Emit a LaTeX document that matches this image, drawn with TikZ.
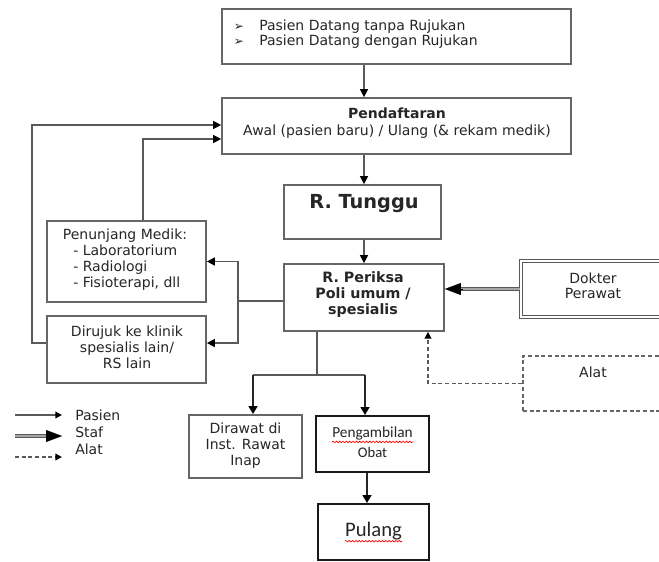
\documentclass[tikz,border=0pt]{standalone}
\usepackage{fontspec}
\setmainfont{DejaVu Sans}
\newfontfamily\carl{Carlito}
\usetikzlibrary{arrows.meta,decorations.pathmorphing,calc}
\begin{document}
\begin{tikzpicture}[x=0.75pt,y=-0.75pt,
  box/.style={draw=black!60, line width=1.3pt, fill=white, inner sep=0pt},
  bbox/.style={draw=black!90, line width=1.4pt, fill=white, inner sep=0pt},
  dbox/.style={draw=black!60, line width=1.1pt, dash pattern=on 3pt off 2pt, inner sep=0pt},
  stafbox/.style={draw=black!65, line width=0.9pt, double=white, double distance=1.2pt, inner sep=0pt},
  txt/.style={text=black!85, font=\fontsize{10.5}{12}\selectfont, inner sep=0pt, align=center},
  conn/.style={draw=black!65, line width=1.1pt},
  arr/.style={conn, -{Triangle[length=6pt,width=6pt,color=black]}},
  barr/.style={draw=black!85, line width=1.5pt, -{Triangle[length=6pt,width=6.5pt,color=black]}},
  dasharr/.style={draw=black!65, line width=1.1pt, dash pattern=on 3pt off 2pt, -{Triangle[length=5pt,width=5pt,color=black]}},
  staf/.style={draw=black!65, line width=0.9pt, double=black!35, double distance=1.4pt},
  stafhead/.style={draw=black, line width=0.1pt, -{Triangle[length=12pt,width=9pt,color=black]}},
  squig/.style={draw=red, line width=0.5pt, decorate, decoration={snake, amplitude=0.6pt, segment length=2.5pt}}
]
\clip (0,0) rectangle (659,561);
\fill[white] (0,0) rectangle (659,561);

% boxes
\node[box, minimum width={349*0.75pt}, minimum height={55*0.75pt}] (top) at (396.5,36.5) {};
\node[box, minimum width={349*0.75pt}, minimum height={56*0.75pt}] (pend) at (396.5,126) {};
\node[box, minimum width={157*0.75pt}, minimum height={54*0.75pt}] (tung) at (362.5,212) {};
\node[box, minimum width={160*0.75pt}, minimum height={67*0.75pt}] (peri) at (364,297.5) {};
\node[stafbox, minimum width={169*0.75pt}, minimum height={56*0.75pt}] (dok) at (605.5,289) {};
\node[dbox, minimum width={167*0.75pt}, minimum height={55*0.75pt}] (alat) at (606.5,383.5) {};
\node[box, minimum width={159*0.75pt}, minimum height={81*0.75pt}] (penu) at (126.5,261.5) {};
\node[box, minimum width={159*0.75pt}, minimum height={67*0.75pt}] (diru) at (126.5,349.5) {};
\node[box, minimum width={113*0.75pt}, minimum height={63*0.75pt}] (dira) at (245.5,446.5) {};
\node[bbox, minimum width={113*0.75pt}, minimum height={56*0.75pt}] (peng) at (372.5,444) {};
\node[bbox, minimum width={111*0.75pt}, minimum height={56*0.75pt}] (pul) at (373.5,532) {};

% texts
\node[txt] (b1) at (239,27) {\fontsize{9}{10}\selectfont ➢};
\node[txt] (b2) at (239,42) {\fontsize{9}{10}\selectfont ➢};
\node[txt, anchor=west] (t1) at (259,27) {Pasien Datang tanpa Rujukan};
\node[txt, anchor=west] (t2) at (259,42) {Pasien Datang dengan Rujukan};
\node[txt, font=\fontsize{10.5}{12}\bfseries] (pt1) at (397,113) {Pendaftaran};
\node[txt] (pt2) at (397,132) {Awal (pasien baru) / Ulang (\& rekam medik)};
\node[txt, font=\fontsize{14.5}{17}\bfseries] (tt) at (364,204) {R. Tunggu};
\node[txt, font=\fontsize{10.7}{12}\bfseries] (prt) at (363,295) {R. Periksa\\Poli umum /\\spesialis};
\node[txt, font=\fontsize{10.5}{11.3}\selectfont] (dt) at (593,285.5) {Dokter\\Perawat};
\node[txt] (at) at (593,372) {Alat};
\node[txt] (pn1) at (125,236) {Penunjang Medik:};
\node[txt, anchor=west, align=left] (pn2) at (73,268) {- Laboratorium\\- Radiologi\\- Fisioterapi, dll};
\node[txt] (drt) at (127,347) {Dirujuk ke klinik\\spesialis lain/\\RS lain};
\node[txt] (dwt) at (245.5,446) {Dirawat di\\Inst. Rawat\\Inap};
\node[txt, font=\carl\fontsize{11.5}{13}\selectfont] (pg1) at (372.5,433) {Pengambilan};
\node[txt, font=\carl\fontsize{11}{13}\selectfont] (pg2) at (372.5,452) {Obat};
\node[txt, font=\carl\fontsize{15.5}{18}\selectfont] (pl) at (373.5,531) {Pulang};
\draw[squig] ($(pg1.south west)+(0,2)$) -- ($(pg1.south east)+(0,2)$);
\draw[squig] ($(pl.south west)+(0,1)$) -- ($(pl.south east)+(0,1)$);

% helper coordinates
\coordinate (cx) at (364,0);
\coordinate (ax) at (428,0);
\coordinate (split) at (317,375);
\coordinate (dx) at (253,375);
\coordinate (px) at (365,375);
\coordinate (bj) at (238,301);
\coordinate (dj) at (0,343);
\coordinate (lp) at (32,125);
\coordinate (up) at (143,139);
\coordinate (ox) at (367,0);

% connectors
\draw[arr] (top.south -| cx) -- (pend.north -| cx);
\draw[arr] (pend.south -| cx) -- (tung.north -| cx);
\draw[arr] (tung.south -| cx) -- (peri.north -| cx);
\draw[staf] (dok.west) -- ($(dok.west -| peri.east)+(14,0)$);
\draw[stafhead] ($(dok.west -| peri.east)+(18,0)$) -- (dok.west -| peri.east);
\draw[dasharr] (alat.west) -| (peri.south -| ax);
\draw[conn] (peri.south -| split) -- (split);
\draw[conn] (dx) -- (px);
\draw[barr] (dx) -- (dira.north -| dx);
\draw[barr] (px) -- (peng.north -| px);
\draw[barr] (peng.south -| ox) -- (pul.north -| ox);
\draw[conn] (peri.west |- bj) -- (bj);
\draw[arr] (bj) |- (penu.east);
\draw[arr] (bj) |- (diru.east |- dj);
\draw[arr] (penu.north -| up) -- (up) -- (pend.west |- up);
\draw[arr] (diru.west |- dj) -| (lp) -- (pend.west |- lp);

% legend
\coordinate (l1a) at (15,415); \coordinate (l1b) at (62,415);
\coordinate (l2a) at (15,436); \coordinate (l2b) at (62,436);
\coordinate (l3a) at (15,457); \coordinate (l3b) at (62,457);
\draw[conn, -{Triangle[length=5pt,width=5pt,color=black]}] (l1a) -- (l1b);
\draw[staf] (l2a) -- ($(l2b)+(-12,0)$);
\draw[stafhead] ($(l2b)+(-16,0)$) -- (l2b);
\draw[dasharr] (l3a) -- (l3b);
\node[txt, anchor=west] (lg1) at (75,415) {Pasien};
\node[txt, anchor=west] (lg2) at (75,432) {Staf};
\node[txt, anchor=west] (lg3) at (75,449) {Alat};
\end{tikzpicture}
\end{document}
